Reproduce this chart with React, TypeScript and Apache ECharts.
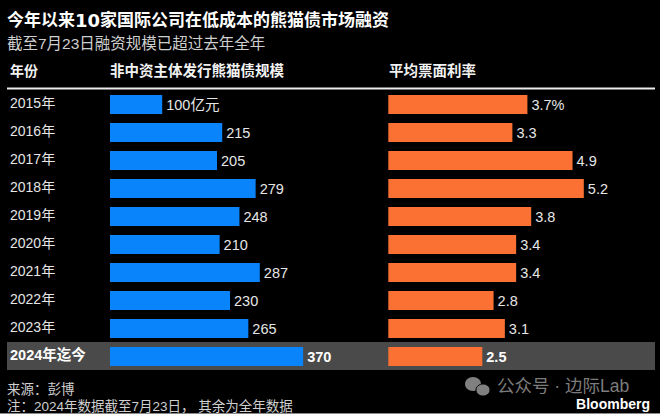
import React, { useEffect, useRef } from "react";
import * as echarts from "echarts";

const categories = ["2015年", "2016年", "2017年", "2018年", "2019年", "2020年", "2021年", "2022年", "2023年", "2024年迄今"];
const issuance = [100, 215, 205, 279, 248, 210, 287, 230, 265, 370];
const coupon = [3.7, 3.3, 4.9, 5.2, 3.8, 3.4, 3.4, 2.8, 3.1, 2.5];
const issuanceLabels = ["100亿元", "215", "205", "279", "248", "210", "287", "230", "265", "370"];
const couponLabels = ["3.7%", "3.3", "4.9", "5.2", "3.8", "3.4", "3.4", "2.8", "3.1", "2.5"];

const FONT = "'Liberation Sans', 'Noto Sans CJK SC', sans-serif";
const BLUE = "#0a84fb";
const ORANGE = "#fb7033";
const TEXT = "#e6e6e6";

const last = categories.length - 1;

function series(values: number[], labels: string[], color: string, idx: number) {
  return {
    type: "bar",
    xAxisIndex: idx,
    yAxisIndex: idx,
    barWidth: 19,
    z: 5,
    itemStyle: { color },
    data: values.map((value, i) => ({
      value,
      label: {
        show: true,
        position: "right",
        distance: 4,
        formatter: labels[i],
        color: i === last ? "#ffffff" : TEXT,
        fontWeight: i === last ? "bold" : "normal",
        fontSize: 14.5,
        fontFamily: FONT,
      },
    })),
  };
}

function text(x: number, y: number, str: string, fontSize: number, fill: string, fontWeight = "normal", align = "left") {
  return {
    type: "text",
    x,
    y,
    z: 10,
    style: { text: str, fontSize, fill, fontWeight, fontFamily: FONT, align, verticalAlign: "middle" },
  };
}

export default function App() {
  const ref = useRef<HTMLDivElement>(null);
  useEffect(() => {
    document.body.style.margin = "0";
    document.body.style.background = "#000";
    const chart = echarts.init(ref.current!, null, { renderer: "svg" });
    const gridTop = 90.5;
    const gridH = 280;
    chart.setOption({
      animation: false,
      backgroundColor: "#000",
      grid: [
        { left: 110, top: gridTop, width: 208.8, height: gridH },
        { left: 388.3, top: gridTop, width: 225.6, height: gridH },
      ],
      xAxis: [
        { gridIndex: 0, type: "value", min: 0, max: 400, show: false },
        { gridIndex: 1, type: "value", min: 0, max: 6, show: false },
      ],
      yAxis: [
        {
          gridIndex: 0,
          type: "category",
          inverse: true,
          z: 6,
          data: categories,
          axisLine: { show: false },
          axisTick: { show: false },
          axisLabel: {
            interval: 0,
            margin: 100,
            align: "left",
            hideOverlap: false,
            formatter: (v: string, i: number) => (i === last ? `{hi|${v}}` : `{yr|${v}}`),
            rich: {
              yr: { fontSize: 14, fontFamily: FONT, color: TEXT, padding: [0, 0, 3, 0] },
              hi: { fontSize: 14.5, fontFamily: FONT, color: "#ffffff", fontWeight: "bold", padding: [0, 0, 3, 0] },
            },
          },
        },
        {
          gridIndex: 1,
          type: "category",
          inverse: true,
          data: categories,
          axisLine: { show: false },
          axisTick: { show: false },
          axisLabel: { show: false },
        },
      ],
      series: [series(issuance, issuanceLabels, BLUE, 0), series(coupon, couponLabels, ORANGE, 1)],
      graphic: [
        { type: "rect", z: 1, shape: { x: 7, y: 342, width: 648, height: 28 }, style: { fill: "#4a4a4a" } },
        { type: "rect", z: 1, shape: { x: 7, y: 87.5, width: 648, height: 2 }, style: { fill: "#ececec" } },
        { type: "rect", z: 1, shape: { x: 0, y: 413, width: 660, height: 1 }, style: { fill: "#8a8a8a" } },
        {
          type: "text",
          x: 7,
          y: 20,
          z: 10,
          style: {
            text: "{a|今年以来}{b|10}{a|家国际公司在低成本的熊猫债市场融资}",
            verticalAlign: "middle",
            rich: {
              a: { fontSize: 17, fontWeight: "bold", fill: "#ffffff", fontFamily: FONT },
              b: { fontSize: 18, fontWeight: "bold", fill: "#ffffff", fontFamily: "'DejaVu Sans', sans-serif" },
            },
          },
        },
        text(7, 43, "截至7月23日融资规模已超过去年全年", 15.5, "#cfcfcf"),
        text(10, 71, "年份", 14, "#f2f2f2", "bold"),
        text(110, 71, "非中资主体发行熊猫债规模", 14.5, "#f2f2f2", "bold"),
        text(389, 71, "平均票面利率", 14.5, "#f2f2f2", "bold"),
        text(7, 389, "来源：彭博", 13.5, "#cfcfcf"),
        text(7, 406, "注：2024年数据截至7月23日， 其余为全年数据", 13.5, "#cfcfcf"),
        { type: "ellipse", z: 10, shape: { cx: 473, cy: 384, rx: 8, ry: 7 }, style: { fill: "#808080" } },
        { type: "ellipse", z: 11, shape: { cx: 483, cy: 390, rx: 7, ry: 6 }, style: { fill: "#808080", stroke: "#000", lineWidth: 1 } },
        text(497, 385.5, "公众号 · 边际Lab", 17.5, "#7c7c7c"),
        text(650, 403.5, "Bloomberg", 14, "#ffffff", "bold", "right"),
      ],
    });
    return () => chart.dispose();
  }, []);
  return <div ref={ref} style={{ width: 660, height: 414 }} />;
}
